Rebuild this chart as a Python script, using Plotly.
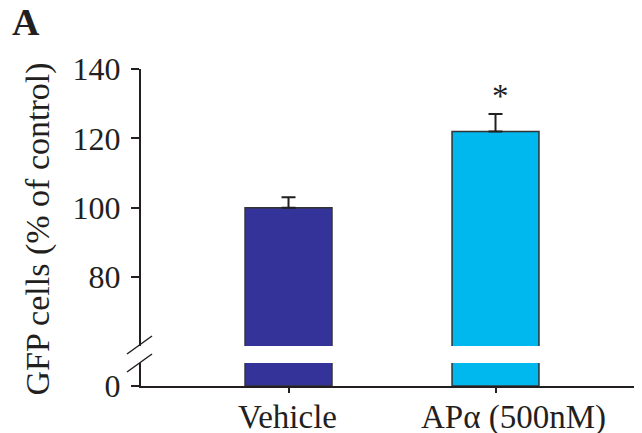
import plotly.graph_objects as go

categories = ["Vehicle", "APα (500nM)"]
values = [100, 122]
errors = [3, 5]
bar_colors = ["#333399", "#00B8EE"]
upper_ticks = [80, 100, 120, 140]
lower_ticks = [0]
significance = ["", "*"]

OFF = 8  # page body margin
W, H = 642 - OFF, 433 - OFF
L, R, T, B = 141 - OFF, 0, 69 - OFF, 47
PW, PH = W - L - R, H - T - B
INK = "#231f20"
FONT = "Liberation Serif, Times New Roman, serif"


def px(x):
    return (x - OFF - L) / PW


def py(y):
    return (H - B - (y - OFF)) / PH


fig = go.Figure()
common = dict(
    x=categories,
    y=values,
    width=0.42,
    marker=dict(color=bar_colors, line=dict(color="#333333", width=1.5)),
    showlegend=False,
    hoverinfo="x+y",
)
# lower segment (near zero)
fig.add_trace(go.Bar(xaxis="x", yaxis="y", **common))
# upper segment with error bars
fig.add_trace(go.Bar(
    xaxis="x", yaxis="y2",
    error_y=dict(type="data", array=errors, arrayminus=[0, 0], symmetric=False,
                 color=INK, thickness=2, width=7),
    **common,
))

axis_common = dict(
    showline=True, linecolor=INK, linewidth=2, ticks="outside", ticklen=8,
    tickwidth=1.5, tickcolor=INK, showgrid=False, zeroline=False,
    ticklabelstandoff=4,
    tickfont=dict(family=FONT, size=32, color=INK),
)

fig.update_layout(
    width=W, height=H,
    margin=dict(l=L, r=R, t=T, b=B, pad=0),
    paper_bgcolor="white", plot_bgcolor="white",
    xaxis=dict(
        type="category", range=[-0.7126, 1.7077], anchor="y",
        showline=True, linecolor=INK, linewidth=2, ticks="outside", ticklen=5,
        tickwidth=1.5, tickcolor=INK, showgrid=False, showticklabels=False,
    ),
    yaxis=dict(domain=[0, 23 / PH], range=[0, 6.63], tickvals=lower_ticks,
               anchor="x", **axis_common),
    yaxis2=dict(domain=[40 / PH, 1], range=[60.1, 140], tickvals=upper_ticks,
                anchor="x", **axis_common),
    font=dict(family=FONT, color=INK),
)

annotations = []
# category labels
label_shift = [-1, 18]
for i, c in enumerate(categories):
    annotations.append(dict(
        x=c, xref="x", y=py(397), yref="paper", text=c, showarrow=False,
        xanchor="center", yanchor="top", xshift=label_shift[i],
        font=dict(family=FONT, size=33, color=INK),
    ))
# significance stars
for i, c in enumerate(categories):
    if significance[i]:
        annotations.append(dict(
            x=c, xref="x", y=values[i] + errors[i], yref="y2",
            text=significance[i], showarrow=False, xanchor="center",
            yanchor="middle", xshift=4.5, yshift=18,
            font=dict(family=FONT, size=33, color=INK),
        ))
# y-axis title
annotations.append(dict(
    x=px(37), xref="paper", y=py(229.5), yref="paper",
    text="GFP cells (% of control)", textangle=-90, showarrow=False,
    xanchor="center", yanchor="middle",
    font=dict(family=FONT, size=34, color=INK),
))
# panel letter
annotations.append(dict(
    x=px(10), xref="paper", y=py(22), yref="paper", text="<b>A</b>",
    showarrow=False, xanchor="left", yanchor="middle",
    font=dict(family=FONT, size=38, color=INK),
))
fig.update_layout(annotations=annotations)

# axis break marks
shapes = []
for (x0, y0, x1, y1) in [(127, 354, 152, 336), (127, 372, 152, 354)]:
    shapes.append(dict(type="line", xref="paper", yref="paper",
                       x0=px(x0), y0=py(y0), x1=px(x1), y1=py(y1),
                       line=dict(color=INK, width=1.5)))
fig.update_layout(shapes=shapes)

fig.write_html("out.html")
